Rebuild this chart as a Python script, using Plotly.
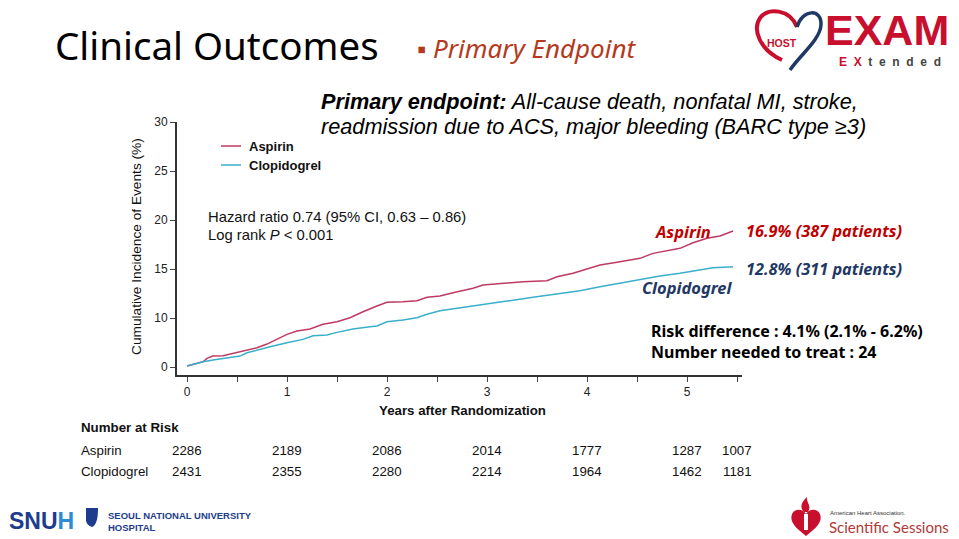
import plotly.graph_objects as go

# ---------------- data ----------------
aspirin_t = [0.0, 0.16, 0.20, 0.26, 0.36, 0.50, 0.60, 0.70, 0.80, 0.90, 1.00, 1.10, 1.23, 1.36, 1.50,
             1.63, 1.76, 1.90, 2.00, 2.16, 2.30, 2.40, 2.53, 2.66, 2.83, 2.86, 2.96, 3.20, 3.36, 3.60,
             3.70, 3.86, 3.96, 4.13, 4.30, 4.53, 4.66, 4.80, 4.93, 5.06, 5.20, 5.33, 5.40, 5.46]
aspirin_v = [0.13, 0.67, 1.09, 1.38, 1.42, 1.80, 2.14, 2.43, 2.89, 3.52, 4.11, 4.53, 4.78, 5.37, 5.70,
             6.20, 6.96, 7.67, 8.14, 8.21, 8.34, 8.77, 8.93, 9.35, 9.81, 9.90, 10.31, 10.60, 10.73, 10.86,
             11.36, 11.79, 12.20, 12.83, 13.17, 13.67, 14.30, 14.63, 14.93, 15.64, 16.19, 16.48, 16.82, 17.11]
clopi_t = [0.0, 0.16, 0.26, 0.40, 0.53, 0.60, 0.70, 0.83, 1.00, 1.16, 1.26, 1.40, 1.50, 1.66, 1.83,
           1.90, 2.00, 2.16, 2.30, 2.40, 2.53, 2.66, 2.83, 2.86, 3.03, 3.20, 3.46, 3.70, 3.93, 4.13,
           4.33, 4.53, 4.73, 4.93, 5.13, 5.26, 5.46]
clopi_v = [0.13, 0.67, 0.88, 1.09, 1.38, 1.80, 2.14, 2.55, 3.06, 3.48, 3.94, 4.03, 4.36, 4.78, 5.07,
           5.16, 5.70, 5.91, 6.20, 6.63, 7.08, 7.30, 7.58, 7.67, 8.01, 8.30, 8.77, 9.18, 9.60, 10.10,
           10.53, 11.03, 11.45, 11.79, 12.20, 12.49, 12.62]

ytick_labels = ["0", "10", "15", "20", "25", "30"]
ytick_pos = [0.0, 6.16, 12.33, 18.49, 24.65, 30.82]   # where the labels sit on the drawn axis
xtick_vals = [0, 0.5, 1, 1.5, 2, 2.5, 3, 3.5, 4, 4.5, 5, 5.5]
xtick_text = ["0", "", "1", "", "2", "", "3", "", "4", "", "5", ""]

risk_times = [0, 1, 2, 3, 4, 5, 5.5]
risk_aspirin = [2286, 2189, 2086, 2014, 1777, 1287, 1007]
risk_clopi = [2431, 2355, 2280, 2214, 1964, 1462, 1181]

C_ASP = "#BF3A62"
C_CLO = "#3AAFCB"
RED = "#C00000"
NAVY = "#1F3864"

W, H = 959, 539
L, R, T, B = 177, 742, 122, 375


def px(x):
    return (x - L) / (R - L)


def py(y):
    return (B - y) / (B - T)


def path(points, close=False):
    s = ""
    for cmd, pts in points:
        s += cmd + " " + " ".join(f"{px(a):.4f},{py(b):.4f}" for a, b in pts) + " "
    if close:
        s += "Z"
    return s


fig = go.Figure()
fig.add_trace(go.Scatter(x=aspirin_t, y=aspirin_v, mode="lines", name="Aspirin",
                         line=dict(color=C_ASP, width=1.5), showlegend=False))
fig.add_trace(go.Scatter(x=clopi_t, y=clopi_v, mode="lines", name="Clopidogrel",
                         line=dict(color=C_CLO, width=1.5), showlegend=False))

ARIAL = "Liberation Sans, Arial, sans-serif"
NOTO = "Noto Sans, Open Sans, sans-serif"

ann = []


def A(text, x, y, size, color="#000", font=ARIAL, xanchor="left", yanchor="middle", xref="paper", yref="paper", **kw):
    ann.append(dict(text=text, x=x, y=y, xref=xref, yref=yref, showarrow=False,
                    xanchor=xanchor, yanchor=yanchor, font=dict(size=size, color=color, family=font), **kw))


# titles
A("Clinical Outcomes", px(53), py(45), 38.5, "#000", NOTO)
A("▪ <i>Primary Endpoint</i>", px(415), py(48), 26, "#B5391D", NOTO)
A("<b><i>Primary endpoint:</i></b><i> All-cause death, nonfatal MI, stroke,</i>",
  px(319), py(101), 21.7, "#000", ARIAL)
A("<i>readmission due to ACS, major bleeding (BARC type ≥3)</i>",
  px(319), py(126), 21.7, "#000", ARIAL)

# legend
A("<b>Aspirin</b>", px(247), py(146), 13, "#111")
A("<b>Clopidogrel</b>", px(247), py(165), 13, "#111")

# stats
A("Hazard ratio 0.74 (95% CI, 0.63 – 0.86)", px(206), py(217), 14.8, "#111", ARIAL)
A("Log rank <i>P</i> &lt; 0.001", px(206), py(235), 14.8, "#111", ARIAL)

A("<b><i>Aspirin</i></b>", px(713), py(231), 16.5, RED, NOTO, xanchor="right")
A("<b><i>16.9% (387 patients)</i></b>", px(744), py(231), 16.3, RED, NOTO)
A("<b><i>12.8% (311 patients)</i></b>", px(744), py(269), 16.3, NAVY, NOTO)
A("<b><i>Clopidogrel</i></b>", px(735), py(287), 16.5, NAVY, NOTO, xanchor="right")
A("<b>Risk difference : 4.1% (2.1% - 6.2%)</b>", px(649), py(331), 16, "#000", NOTO)
A("<b>Number needed to treat : 24</b>", px(649), py(352), 16, "#000", NOTO)

# axis titles
A("Cumulative Incidence of Events (%)", px(136), py(247), 13.7, "#111", ARIAL,
  xanchor="center", textangle=-90)
A("<b>Years after Randomization</b>", px(462), py(410), 13.3, "#111", ARIAL, xanchor="center")

# number at risk
A("<b>Number at Risk</b>", px(79), py(427), 13.3, "#111")
A("Aspirin", px(79), py(450), 13.3, "#111")
A("Clopidogrel", px(79), py(471), 13.3, "#111")
for t, a, c in zip(risk_times, risk_aspirin, risk_clopi):
    A(str(a), t, py(450), 13.3, "#111", xref="x", xanchor="center")
    A(str(c), t, py(471), 13.3, "#111", xref="x", xanchor="center")

# EXAM logo
A("<b>EXAM</b>", px(887), py(30), 43, "#C8102E", ARIAL, xanchor="center")
A('<b><span style="color:#C8102E">E\u00a0\u00a0X</span>\u00a0\u00a0t\u00a0\u00a0e\u00a0\u00a0n\u00a0\u00a0d\u00a0\u00a0e\u00a0\u00a0d</b>',
  px(890), py(62), 12, "#444", ARIAL, xanchor="center")
A("<b>HOST</b>", px(782), py(43), 10.5, "#C8102E", ARIAL, xanchor="center")

# SNUH logo
A('<b>SNU<span style="color:#2E8BD8">H</span></b>', px(7), py(521), 23, "#1D3C8C", ARIAL)
A("<b>SEOUL NATIONAL UNIVERSITY</b><br><b>HOSPITAL</b>", px(106), py(521), 9.5, "#1D3C8C",
  ARIAL, align="left")

# AHA logo
A("American Heart Association.", px(828), py(513), 6, "#333", ARIAL)
A("Scientific Sessions", px(827), py(527), 15, "#B03A36", "Lato, sans-serif")

shapes = [
    dict(type="line", xref="paper", yref="paper", x0=px(221), x1=px(241), y0=py(146), y1=py(146),
         line=dict(color=C_ASP, width=1.5)),
    dict(type="line", xref="paper", yref="paper", x0=px(221), x1=px(241), y0=py(165), y1=py(165),
         line=dict(color=C_CLO, width=1.5)),
    # HOST heart
    dict(type="path", xref="paper", yref="paper",
         path=path([("M", [(797, 27)]), ("C", [(790, 9), (768, 7), (760, 18)]), ("C", [(752, 30), (760, 50), (782, 60)])]),
         line=dict(color="#C8102E", width=4)),
    dict(type="path", xref="paper", yref="paper",
         path=path([("M", [(797, 27)]), ("C", [(802, 9), (822, 8), (821, 25)]), ("C", [(820, 40), (800, 55), (790, 70)])]),
         line=dict(color="#1F3864", width=3.5)),
    # SNUH shield
    dict(type="path", xref="paper", yref="paper",
         path=path([("M", [(86, 508)]), ("L", [(98, 508), (98, 520)]), ("Q", [(98, 525), (92, 527)]),
                    ("Q", [(86, 525), (86, 520)])], close=True),
         fillcolor="#1D3C8C", line=dict(width=0)),
    # AHA heart + flame
    dict(type="path", xref="paper", yref="paper",
         path=path([("M", [(806, 536)]), ("C", [(796, 528), (789, 522), (792, 514)]),
                    ("C", [(795, 508), (803, 509), (806, 514)]), ("C", [(809, 509), (817, 508), (820, 514)]),
                    ("C", [(823, 522), (816, 528), (806, 536)])], close=True),
         fillcolor="#C8102E", line=dict(width=0)),
    dict(type="path", xref="paper", yref="paper",
         path=path([("M", [(804, 512)]), ("C", [(798, 506), (804, 500), (807, 497)]),
                    ("C", [(806, 503), (812, 505), (808, 512)])], close=True),
         fillcolor="#C8102E", line=dict(width=0)),
    dict(type="rect", xref="paper", yref="paper", x0=px(804), x1=px(808), y0=py(530), y1=py(514),
         fillcolor="white", line=dict(width=0)),
]

fig.update_layout(
    width=W, height=H,
    margin=dict(l=L, r=W - R, t=T, b=H - B),
    paper_bgcolor="white", plot_bgcolor="white",
    annotations=ann, shapes=shapes,
    xaxis=dict(range=[-0.1, 5.55], tickvals=xtick_vals, ticktext=xtick_text, ticks="outside",
               ticklen=5, tickcolor="#444", showline=True, linecolor="#333", linewidth=2,
               showgrid=False, zeroline=False, tickfont=dict(size=12, color="#222", family=ARIAL)),
    yaxis=dict(range=[-1.0, 30.82], tickvals=ytick_pos, ticktext=ytick_labels, ticks="outside",
               ticklen=5, tickcolor="#444", showline=True, linecolor="#333", linewidth=2,
               showgrid=False, zeroline=False, tickfont=dict(size=12, color="#222", family=ARIAL)),
)

fig.write_html("out.html", config={"displayModeBar": False},
               post_script="document.body.style.margin='0px';document.body.style.overflow='hidden';")
